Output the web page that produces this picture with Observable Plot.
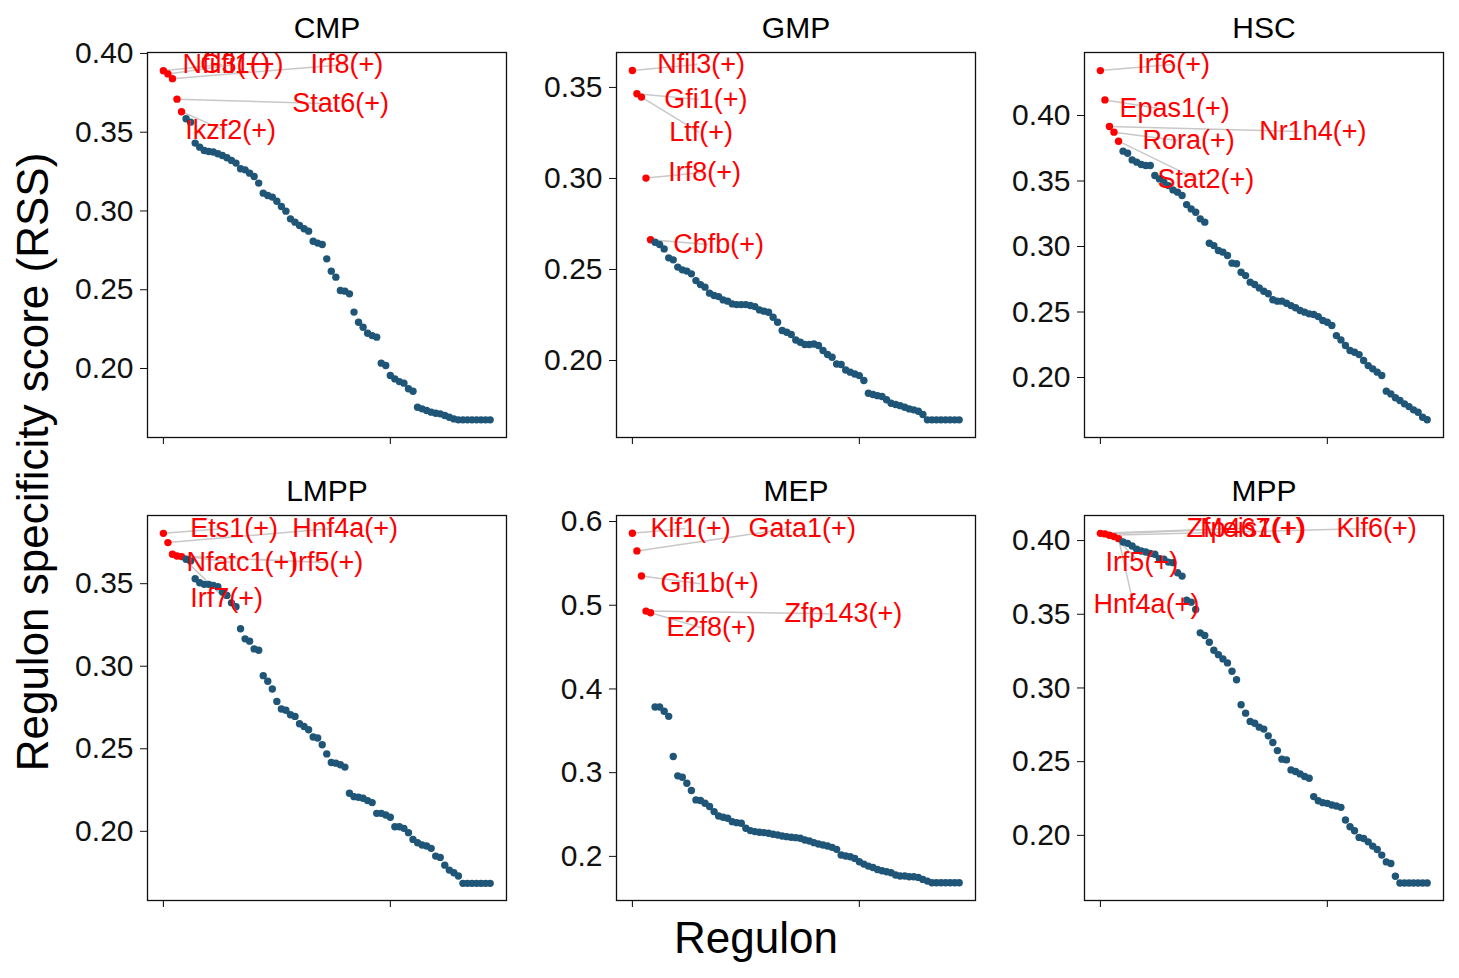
<!DOCTYPE html>
<html><head><meta charset="utf-8">
<script src="https://cdn.jsdelivr.net/npm/d3@7"></script>
<script src="https://cdn.jsdelivr.net/npm/@observablehq/plot@0.6"></script>
<style>
body{margin:0;background:#fff;font-family:"Liberation Sans",Arial,sans-serif;}
#wrap{position:relative;width:1459px;height:978px;}
.p{position:absolute;}
.lab{position:absolute;color:#000;font-size:44px;line-height:1;}
</style></head><body><div id="wrap"></div>
<script>
const cellTypes = ["CMP","GMP","HSC","LMPP","MEP","MPP"];
const rssCMP = [.389,.387,.384,.371,.363,.3585,.3564,.3431,.3405,.3384,.3378,.3374,.3363,.3352,.3338,.3321,.3304,.3268,.3261,.3240,.3219,.3177,.3113,.3098,.3088,.3062,.3028,.2999,.2950,.2929,.2908,.2887,.2872,.2808,.2796,.2787,.2696,.2618,.2580,.2495,.2491,.2474,.2358,.2294,.2262,.2224,.2209,.2199,.2034,.2019,.1956,.1934,.1917,.1907,.1871,.1856,.1754,.1744,.1733,.1723,.1716,.1712,.1702,.1691,.1680,.1674,.1674,.1674,.1674,.1674,.1674,.1674,.1674];
const rssGMP = [.3593,.3465,.3447,.3002,.2663,.2650,.2637,.2613,.2564,.2553,.2513,.2498,.2491,.2476,.2439,.2417,.2403,.2370,.2357,.2351,.2333,.2326,.2311,.2307,.2307,.2307,.2302,.2296,.2278,.2271,.2265,.2238,.2210,.2165,.2155,.2143,.2113,.2100,.2088,.2088,.2091,.2082,.2055,.2033,.2018,.1981,.1978,.1948,.1936,.1926,.1917,.1890,.1820,.1813,.1807,.1802,.1784,.1765,.1758,.1752,.1743,.1734,.1729,.1721,.1703,.1674,.1674,.1674,.1674,.1674,.1674,.1674,.1674];
const rssHSC = [.4343,.4119,.3916,.3873,.3804,.3728,.3712,.3661,.3644,.3626,.3618,.3618,.3542,.3516,.3491,.3465,.3432,.3415,.3389,.3320,.3287,.3262,.3211,.3186,.3025,.3007,.2969,.2957,.2931,.2873,.2868,.2804,.2778,.2728,.2710,.2684,.2659,.2639,.2593,.2583,.2583,.2567,.2549,.2532,.2511,.2499,.2486,.2481,.2465,.2435,.2422,.2397,.2320,.2287,.2244,.2206,.2193,.2175,.2130,.2091,.2066,.2041,.2015,.1896,.1875,.1845,.1824,.1799,.1778,.1753,.1735,.1697,.1677];
const rssLMPP = [.3805,.3749,.3678,.3668,.3664,.3648,.3637,.3530,.3506,.3496,.3496,.3490,.3482,.3449,.3429,.3384,.3360,.3227,.3166,.3152,.3105,.3097,.2943,.2909,.2862,.2787,.2741,.2733,.2706,.2696,.2652,.2635,.2615,.2571,.2565,.2524,.2469,.2417,.2413,.2403,.2389,.2231,.2210,.2206,.2200,.2186,.2174,.2109,.2109,.2099,.2085,.2028,.2028,.2018,.1992,.1951,.1931,.1917,.1911,.1897,.1850,.1842,.1795,.1765,.1749,.1729,.1685,.1685,.1685,.1685,.1685,.1685,.1685];
const rssMEP = [.5860,.5649,.5350,.4930,.4910,.3785,.3785,.3733,.3673,.3194,.2962,.2946,.2874,.2787,.2675,.2667,.2635,.2595,.2535,.2483,.2467,.2455,.2415,.2403,.2395,.2336,.2308,.2296,.2288,.2284,.2276,.2264,.2256,.2244,.2236,.2228,.2224,.2216,.2196,.2184,.2164,.2148,.2136,.2124,.2108,.2084,.2016,.2004,.1996,.1976,.1936,.1908,.1884,.1868,.1844,.1829,.1817,.1805,.1777,.1765,.1765,.1757,.1757,.1749,.1725,.1705,.1685,.1685,.1685,.1685,.1685,.1685,.1685];
const rssMPP = [.4049,.4045,.4036,.4027,.4013,.3990,.3981,.3963,.3941,.3929,.3922,.3913,.3907,.3877,.3873,.3854,.3850,.3782,.3759,.3596,.3582,.3532,.3374,.3356,.3310,.3256,.3226,.3197,.3170,.3113,.3056,.2886,.2829,.2773,.2761,.2734,.2721,.2675,.2630,.2575,.2517,.2512,.2444,.2433,.2417,.2399,.2387,.2263,.2235,.2222,.2217,.2206,.2199,.2190,.2104,.2058,.2031,.1986,.1979,.1956,.1927,.1904,.1866,.1820,.1809,.1723,.1677,.1677,.1677,.1677,.1677,.1677,.1677];
const rssValues = [rssCMP,rssGMP,rssHSC,rssLMPP,rssMEP,rssMPP];

const topNames = [
  ["Nfil3(+)","Gfi1(+)","Irf8(+)","Stat6(+)","Ikzf2(+)"],
  ["Nfil3(+)","Gfi1(+)","Ltf(+)","Irf8(+)","Cbfb(+)"],
  ["Irf6(+)","Epas1(+)","Nr1h4(+)","Rora(+)","Stat2(+)"],
  ["Ets1(+)","Hnf4a(+)","Nfatc1(+)","Irf5(+)","Irf7(+)"],
  ["Klf1(+)","Gata1(+)","Gfi1b(+)","Zfp143(+)","E2f8(+)"],
  ["Zfp467(+)","Meis1(+)","Klf6(+)","Irf5(+)","Hnf4a(+)"]
];
// label anchor positions (regulon rank, RSS) as placed by text-repel
const labelRank = [
  [4.2,8.1,32.4,28.4,4.8],[5.5,7.0,8.1,7.9,9.0],[8.1,4.2,35,9.3,12.6],
  [5.9,28.4,5.1,28,5.9],[4,25.6,6.2,33.5,7.5],[19,22,52,1.1,-1.5]
];
const labelRss = [
  [.393,.393,.393,.368,.351],[.3626,.3434,.3253,.3033,.2637],[.4389,.4053,.3878,.3809,.3511],
  [.3834,.3834,.3628,.3628,.3409],[.5916,.5916,.5257,.4898,.4731],[.4082,.4082,.4082,.385,.3565]
];
const yDomains = [[.1562,.4006],[.1577,.3692],[.1542,.4481],[.1581,.3913],[.1473,.6072],[.1558,.4170]];
const yTicks = [[.20,.25,.30,.35,.40],[.20,.25,.30,.35],[.20,.25,.30,.35,.40],[.20,.25,.30,.35],[.2,.3,.4,.5,.6],[.20,.25,.30,.35,.40]];
const yFormats = [".2f",".2f",".2f",".2f",".1f",".2f"];
const xTicks = [0,50];
const nTop = 5;

const frameLeft = [147,616,1084], frameTop = [52,515];
const FW = 359, FH = 385, ML = 90, MT = 50, MR = 12, MB = 20;
const wrap = document.getElementById("wrap");
const blue = "#1f5678", red = "#ff0000";

cellTypes.forEach((ct, k) => {
  const vals = rssValues[k];
  const pts = vals.map((v, i) => ({rank: i, rss: v, top: i < nTop}));
  const labs = topNames[k].map((n, j) => ({name: n, x: labelRank[k][j], y: labelRss[k][j],
     px: j, pr: vals[j], len: n.length}));
  const plot = Plot.plot({
    width: ML + FW + MR, height: MT + FH + MB,
    marginLeft: ML, marginTop: MT, marginRight: MR, marginBottom: MB,
    style: {fontFamily: '"Liberation Sans", Arial, sans-serif', fontSize: "30px", background: "transparent", overflow: "visible"},
    x: {domain: [-3.5, 75.6]},
    y: {domain: yDomains[k]},
    marks: [
      Plot.axisY({ticks: yTicks[k], tickFormat: d3.format(yFormats[k]), tickSize: 7, tickPadding: 7, fontSize: 30, label: null, color: "#111"}),
      Plot.axisX({ticks: xTicks, tickFormat: () => "", tickSize: 7, label: null}),
      Plot.link(labs, {x1: "px", y1: "pr", x2: d => d.x + d.len * 1.1, y2: "y", stroke: "#c8c8c8", strokeWidth: 1.5}),
      Plot.dot(pts, {x: "rank", y: "rss", r: 3.7, fill: d => d.top ? red : blue, stroke: null}),
      Plot.text(labs, {x: "x", y: "y", text: "name", textAnchor: "start", fill: red, fontSize: 27}),
      Plot.frame({stroke: "#111", strokeWidth: 1.3}),
      Plot.text([ct], {frameAnchor: "top", lineAnchor: "middle", dy: -24, text: d => d, fontSize: 30, fill: "#000"})
    ]
  });
  const col = k % 3, row = Math.floor(k / 3);
  const d = document.createElement("div");
  d.className = "p";
  d.style.left = (frameLeft[col] - ML) + "px";
  d.style.top = (frameTop[row] - MT) + "px";
  d.appendChild(plot);
  wrap.appendChild(d);
});
const xl = document.createElement("div");
xl.className = "lab"; xl.textContent = "Regulon";
xl.style.left = "674px"; xl.style.top = "916px";
wrap.appendChild(xl);
const yl = document.createElement("div");
yl.className = "lab"; yl.textContent = "Regulon specificity score (RSS)";
yl.style.left = "33px"; yl.style.top = "462px";
yl.style.transform = "translate(-50%,-50%) rotate(-90deg)";
yl.style.whiteSpace = "nowrap";
wrap.appendChild(yl);
</script></body></html>
